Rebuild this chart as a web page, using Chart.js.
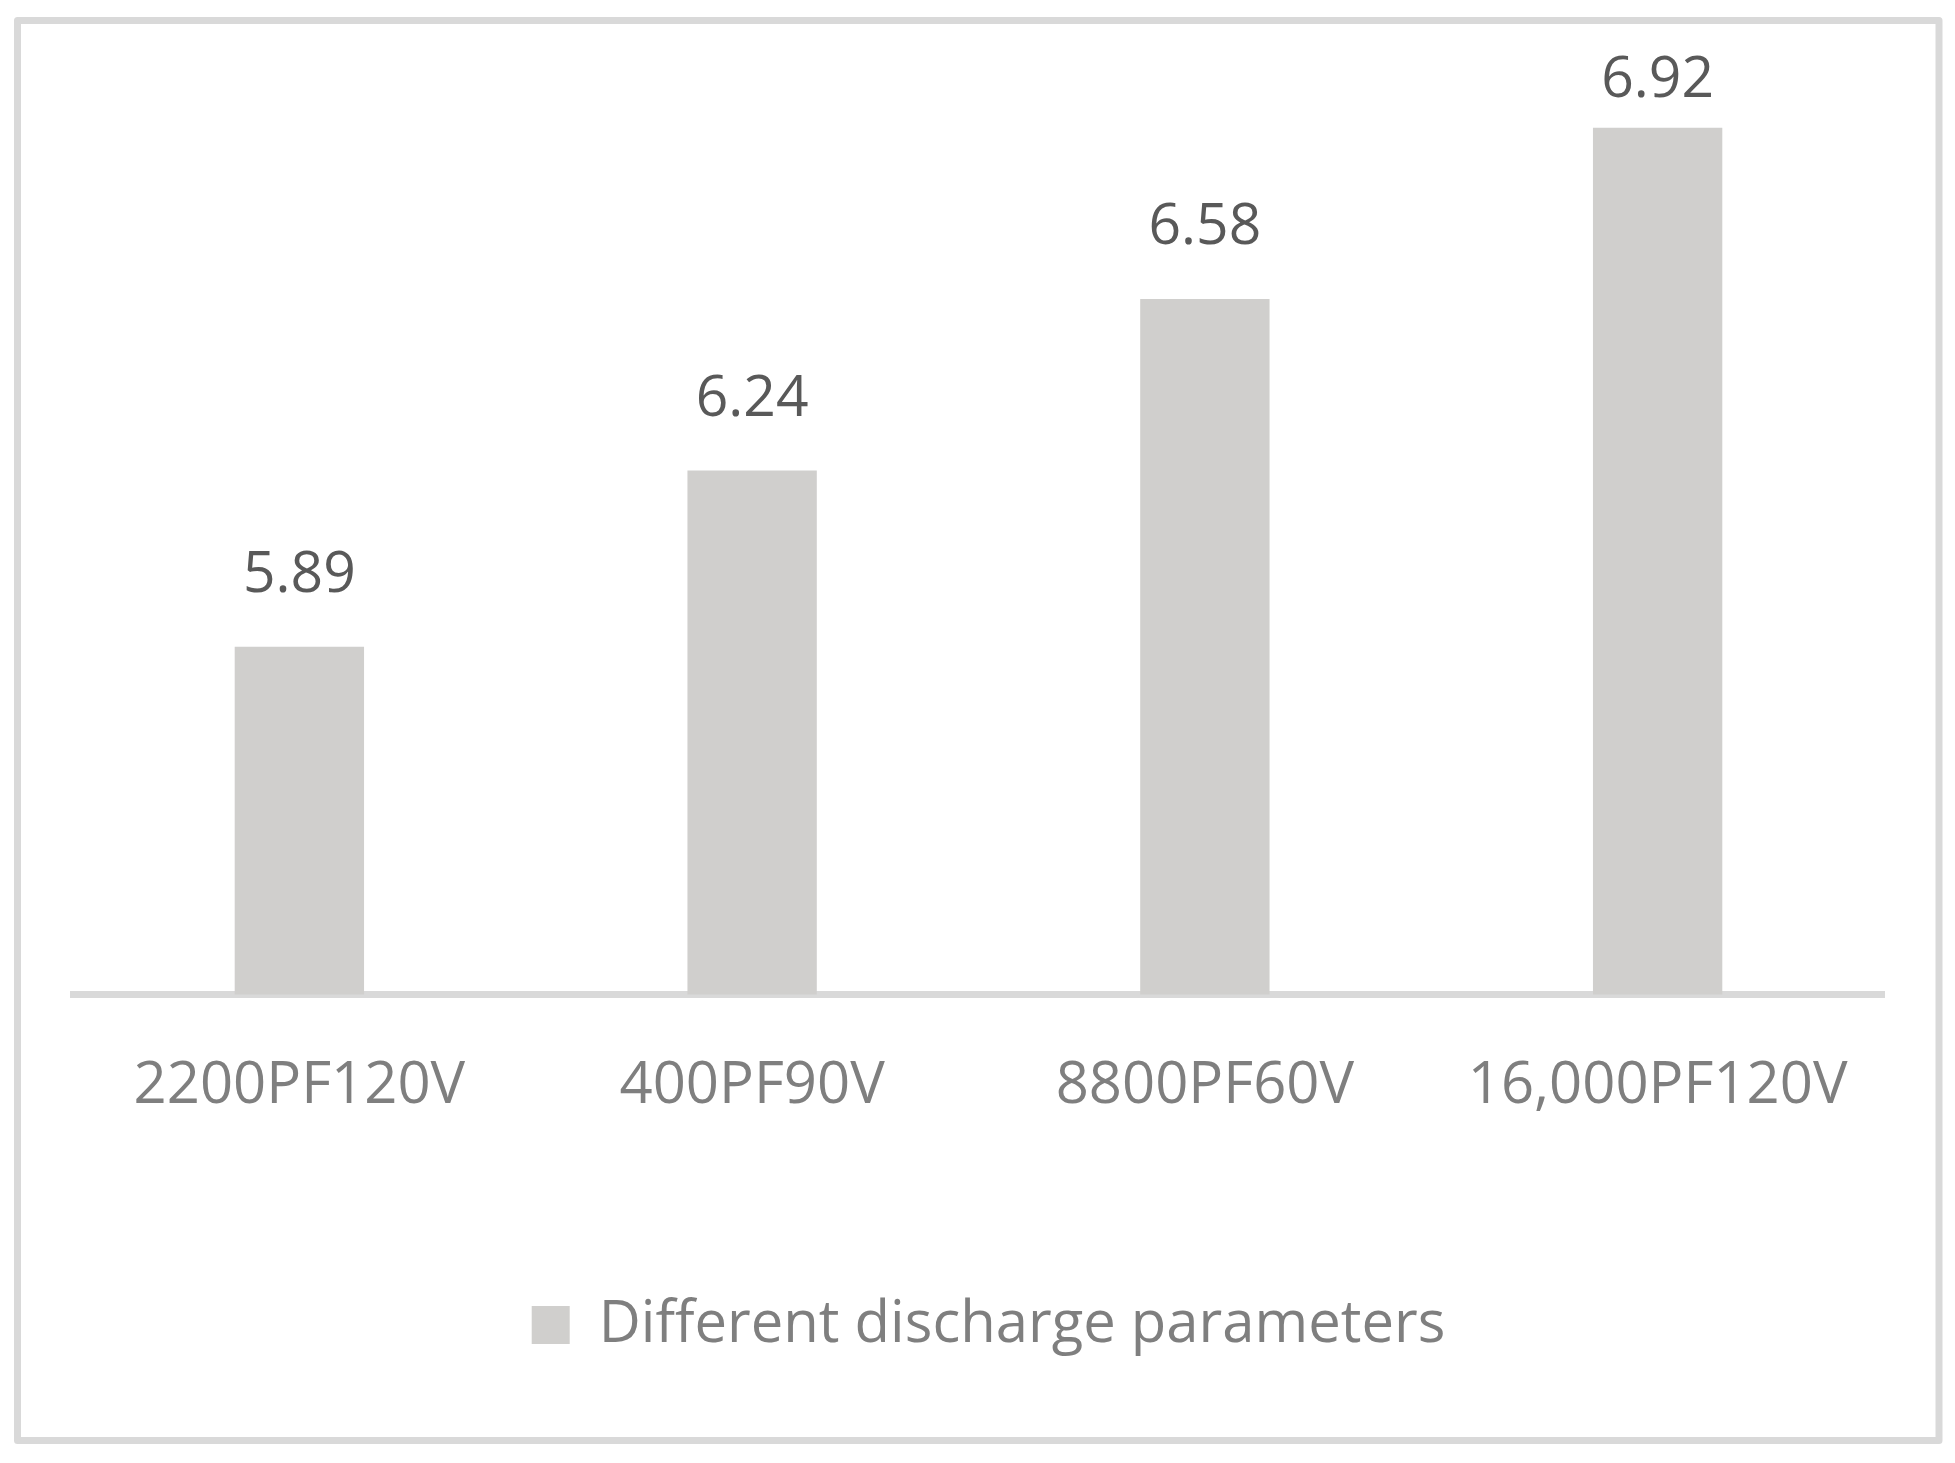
<!DOCTYPE html>
<html>
<head>
<meta charset="utf-8">
<script src="https://cdn.jsdelivr.net/npm/chart.js@4"></script>
<style>
html,body{margin:0;padding:0;background:#fff;}
#wrap{width:1955px;height:1463px;}
</style>
</head>
<body>
<div id="wrap"><canvas id="c" width="1955" height="1463"></canvas></div>
<script>
const categories = ['2200PF120V', '400PF90V', '8800PF60V', '16,000PF120V'];
const seriesName = 'Different discharge parameters';
const seriesValues = [5.89, 6.24, 6.58, 6.92];
const yMin = 5.2;
const yMax = 7.0;

const FONT = "'Open Sans', 'Liberation Sans', sans-serif";

const frame = {
  id: 'frame',
  beforeDraw(chart) {
    const ctx = chart.ctx;
    ctx.save();
    ctx.fillStyle = '#ffffff';
    ctx.fillRect(0, 0, chart.width, chart.height);
    ctx.strokeStyle = '#d9d9d9';
    ctx.lineWidth = 7;
    ctx.lineJoin = 'round';
    ctx.strokeRect(17.5, 20.5, 1921.5, 1420);
    ctx.restore();
  }
};

const legendShift = {
  id: 'legendShift',
  afterLayout(chart) {
    if (chart.legend) {
      chart.legend.left += 10;
      chart.legend.right += 10;
    }
  }
};

const valueLabels = {
  id: 'valueLabels',
  afterDatasetsDraw(chart) {
    const ctx = chart.ctx;
    const meta = chart.getDatasetMeta(0);
    const top = chart.chartArea.top;
    ctx.save();
    ctx.font = '57px ' + FONT;
    ctx.fillStyle = '#595959';
    ctx.textAlign = 'center';
    ctx.textBaseline = 'middle';
    meta.data.forEach((bar, i) => {
      const y = Math.max(bar.y - 71, top - 7);
      ctx.fillText(seriesValues[i].toFixed(2), bar.x, y);
    });
    ctx.restore();
  }
};

new Chart(document.getElementById('c'), {
  type: 'bar',
  data: {
    labels: categories,
    datasets: [{
      label: seriesName,
      data: seriesValues,
      backgroundColor: '#d0cfcd',
      borderWidth: 0,
      barPercentage: 1 / 3.5,
      categoryPercentage: 1.0
    }]
  },
  options: {
    responsive: false,
    animation: false,
    devicePixelRatio: 1,
    layout: { padding: { left: 73, right: 71, top: 87.5, bottom: 99 } },
    scales: {
      x: {
        z: 1,
        grid: { display: false, drawTicks: false },
        border: { display: true, color: '#d9d9d9', width: 7 },
        ticks: {
          color: '#7f7f7f',
          font: { family: FONT, size: 58 },
          padding: 57.5,
          maxRotation: 0,
          autoSkip: false
        }
      },
      y: {
        display: false,
        min: yMin,
        max: yMax
      }
    },
    plugins: {
      legend: {
        position: 'bottom',
        labels: {
          boxWidth: 38,
          boxHeight: 38,
          padding: 117,
          color: '#7f7f7f',
          font: { family: FONT, size: 58 }
        }
      },
      tooltip: { enabled: false }
    }
  },
  plugins: [frame, legendShift, valueLabels]
});
</script>
</body>
</html>
